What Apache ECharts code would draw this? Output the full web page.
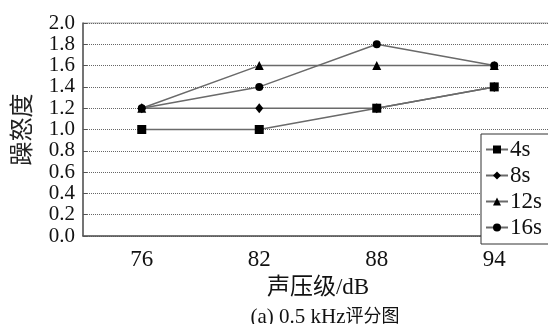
<!DOCTYPE html>
<html>
<head>
<meta charset="utf-8">
<script src="https://cdn.jsdelivr.net/npm/echarts@6/dist/echarts.min.js"></script>
<style>
  html, body { margin: 0; padding: 0; background: #fff; }
  #chart { width: 548px; height: 324px; }
</style>
</head>
<body>
<div id="chart"></div>
<script>
const categories = ['76', '82', '88', '94']
const seriesNames = ['4s', '8s', '12s', '16s']
const s4 = [1.0, 1.0, 1.2, 1.4]
const s8 = [1.2, 1.2, 1.2, 1.4]
const s12 = [1.2, 1.6, 1.6, 1.6]
const s16 = [1.2, 1.4, 1.8, 1.6]
const symbols = ['rect', 'diamond', 'triangle', 'circle']
const symbolSizes = [9, [8, 10], 9, 8]

const font = '"Liberation Serif", "Noto Sans CJK SC", serif'
const chart = echarts.init(document.getElementById('chart'))

const values = [s4, s8, s12, s16]
const series = values.map((v, i) => ({
  name: seriesNames[i],
  type: 'line',
  data: v,
  symbol: symbols[i],
  symbolSize: symbolSizes[i],
  itemStyle: { color: '#000' },
  lineStyle: { color: '#6a6a6a', width: 1.5 },
  animation: false
}))

chart.setOption({
  animation: false,
  title: {
    text: '{a|(a) 0.5 kHz}{b|评分图}',
    left: 320,
    textAlign: 'center',
    top: 302,
    textStyle: {
      fontWeight: 'normal',
      rich: {
        a: { fontFamily: font, fontSize: 21, fontWeight: 'normal', color: '#111', lineHeight: 20 },
        b: { fontFamily: font, fontSize: 18, fontWeight: 'normal', color: '#111', lineHeight: 20 }
      }
    }
  },
  grid: {
    left: 83,
    right: -5,
    top: 23,
    bottom: 88,
    containLabel: false,
    outerBoundsMode: 'none',
    show: true,
    borderColor: '#aaa',
    borderWidth: 1
  },
  legend: {
    data: seriesNames,
    orient: 'vertical',
    left: 481,
    top: 134,
    width: 80,
    padding: [4, 20, 5, 4],
    itemWidth: 22,
    itemHeight: 10,
    itemGap: 3,
    borderColor: '#333',
    borderWidth: 1,
    backgroundColor: '#fff',
    textStyle: { fontFamily: font, fontSize: 23, color: '#111', padding: [0, 0, 0, -3] }
  },
  xAxis: {
    type: 'category',
    data: categories,
    name: '声压级/dB',
    nameLocation: 'middle',
    nameGap: 40,
    nameTextStyle: { fontFamily: font, fontSize: 23, color: '#111' },
    axisLine: { lineStyle: { color: '#555', width: 1.5 } },
    axisTick: { inside: true, length: 5, lineStyle: { color: '#555' } },
    axisLabel: { fontFamily: font, fontSize: 23, color: '#111', margin: 12 },
    splitLine: { show: false }
  },
  yAxis: {
    type: 'value',
    min: 0,
    max: 2,
    interval: 0.2,
    name: '躁怒度',
    nameLocation: 'middle',
    nameRotate: 90,
    nameGap: 47,
    nameTextStyle: { fontFamily: font, fontSize: 24, color: '#222' },
    axisLine: { show: true, lineStyle: { color: '#555', width: 1.5 } },
    axisTick: { show: true, inside: true, length: 4, lineStyle: { color: '#555' } },
    axisLabel: {
      fontFamily: font,
      fontSize: 21,
      color: '#111',
      margin: 8,
      showMinLabel: true,
      showMaxLabel: true,
      hideOverlap: false,
      formatter: v => v.toFixed(1)
    },
    splitLine: { lineStyle: { type: 'dotted', color: '#666', width: 1 } }
  },
  series: series
})
</script>
</body>
</html>
